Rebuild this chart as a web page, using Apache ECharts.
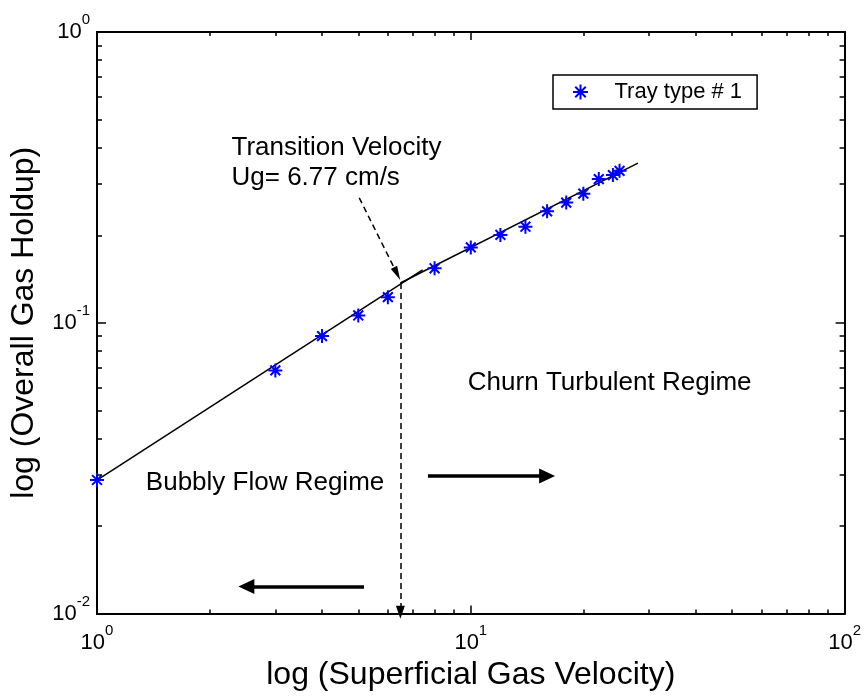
<!DOCTYPE html>
<html>
<head>
<meta charset="utf-8">
<script src="https://cdn.jsdelivr.net/npm/echarts@6/dist/echarts.min.js"></script>
<style>
html, body { margin: 0; padding: 0; background: #fff; }
#main { width: 864px; height: 696px; }
</style>
</head>
<body>
<div id="main"></div>
<script>
// measured points, tray type # 1
var velocity = [1, 3, 4, 5, 6, 8, 10, 12, 14, 16, 18, 20, 22, 24, 25];
var holdup = [0.0288, 0.0686, 0.090, 0.106, 0.1225, 0.154, 0.1817, 0.2006, 0.214, 0.2417, 0.259, 0.278, 0.312, 0.322, 0.333];

// fitted lines for the two regimes
var bubblyFitX = [1, 7.43];
var bubblyFitY = [0.0288, 0.152];
var churnFitX = [6.48, 28];
var churnFitY = [0.137, 0.354];

// annotation arrows (data coords)
var transitionX = [6.48, 6.48];
var transitionY = [0.137, 0.0101];
var pointerX = [5.03, 6.35];
var pointerY = [0.269, 0.1476];
var rightArrowX = [7.68, 16.0];
var rightArrowY = [0.0297, 0.0297];
var leftArrowX = [5.18, 2.51];
var leftArrowY = [0.0124, 0.0124];

// annotation texts, anchored at their left-middle point
var noteText = ['Transition Velocity', 'Ug= 6.77 cm/s', 'Bubbly Flow Regime', 'Churn Turbulent Regime'];
var noteX = [2.29, 2.29, 1.351, 9.82];
var noteY = [0.4003, 0.3145, 0.02808, 0.0622];

// ticks
var xMajor = [1, 10, 100];
var xMinor = [2, 3, 4, 5, 6, 7, 8, 9, 20, 30, 40, 50, 60, 70, 80, 90];
var yMajor = [0.01, 0.1, 1];
var yMinor = [0.02, 0.03, 0.04, 0.05, 0.06, 0.07, 0.08, 0.09, 0.2, 0.3, 0.4, 0.5, 0.6, 0.7, 0.8, 0.9];

var seriesName = 'Tray type # 1';
var FONT = '"Liberation Sans", Arial, sans-serif';
var STAR = 'path://M0,-10L0,10M-10,0L10,0M-7,-7L7,7M-7,7L7,-7';

function pairs(xs, ys) {
    var out = [];
    for (var i = 0; i < xs.length; i++) {
        out.push([xs[i], ys[i]]);
    }
    return out;
}

function arrow(xs, ys, width, dash, size) {
    return [
        { coord: [xs[0], ys[0]], symbol: 'none', lineStyle: { color: '#000', width: width, type: dash } },
        { coord: [xs[1], ys[1]], symbol: 'triangle', symbolSize: size }
    ];
}

function powLabel(v) {
    return '{b|10}{s|' + Math.round(Math.log10(v)) + '}';
}

var richLabel = {
    b: { fontSize: 22, fontFamily: FONT, color: '#000' },
    s: { fontSize: 15, fontFamily: FONT, color: '#000', padding: [0, 0, 24, 0] }
};

function xAxisOf(pos, ticks, len, labels) {
    return {
        type: 'log', logBase: 10, min: 1, max: 100, position: pos, gridIndex: 0,
        axisLine: { show: true, onZero: false, lineStyle: { color: '#000', width: 2 } },
        axisTick: { show: true, inside: true, length: len, customValues: ticks, lineStyle: { color: '#000', width: 1.5 } },
        axisLabel: labels ? {
            show: true, customValues: xMajor, margin: 10, formatter: powLabel, rich: richLabel
        } : { show: false },
        splitLine: { show: false }
    };
}

function yAxisOf(pos, ticks, len, labels) {
    return {
        type: 'log', logBase: 10, min: 0.01, max: 1, position: pos, gridIndex: 0,
        axisLine: { show: true, onZero: false, lineStyle: { color: '#000', width: 2 } },
        axisTick: { show: true, inside: true, length: len, customValues: ticks, lineStyle: { color: '#000', width: 1.5 } },
        axisLabel: labels ? {
            show: true, customValues: yMajor, margin: 7, formatter: powLabel, rich: richLabel
        } : { show: false },
        splitLine: { show: false }
    };
}

var xAxes = [
    xAxisOf('bottom', xMajor, 8, true),
    xAxisOf('bottom', xMinor, 4, false),
    xAxisOf('top', xMajor, 8, false),
    xAxisOf('top', xMinor, 4, false)
];
xAxes[0].name = 'log (Superficial Gas Velocity)';
xAxes[0].nameLocation = 'middle';
xAxes[0].nameGap = 41;
xAxes[0].nameTextStyle = { fontSize: 32, fontFamily: FONT, color: '#000' };

var yAxes = [
    yAxisOf('left', yMajor, 9, true),
    yAxisOf('left', yMinor, 5, false),
    yAxisOf('right', yMajor, 9, false),
    yAxisOf('right', yMinor, 5, false)
];
yAxes[0].name = 'log (Overall Gas Holdup)';
yAxes[0].nameLocation = 'middle';
yAxes[0].nameGap = 57;
yAxes[0].nameTextStyle = { fontSize: 32, fontFamily: FONT, color: '#000' };

var notes = [];
for (var i = 0; i < noteText.length; i++) {
    notes.push({ name: noteText[i], value: [noteX[i], noteY[i]] });
}

var chart = echarts.init(document.getElementById('main'), null, { renderer: 'canvas' });
chart.setOption({
    animation: false,
    backgroundColor: '#fff',
    textStyle: { fontFamily: FONT },
    grid: { left: 95, right: 19, top: 32, bottom: 73, containLabel: false },
    legend: {
        data: [{ name: seriesName, icon: STAR }],
        left: 553, top: 75,
        orient: 'horizontal',
        backgroundColor: '#fff',
        borderColor: '#000', borderWidth: 1.5, borderRadius: 0,
        padding: [6, 15, 6, 19],
        itemWidth: 28, itemHeight: 15,
        selectedMode: false,
        itemStyle: { opacity: 1, color: 'transparent', borderColor: '#0000ff', borderWidth: 2 },
        textStyle: { fontSize: 22, fontFamily: FONT, color: '#000', lineHeight: 22, padding: [0, 0, 0, 15] }
    },
    xAxis: xAxes,
    yAxis: yAxes,
    series: [
        {
            name: 'bubbly fit', type: 'line', xAxisIndex: 0, yAxisIndex: 0,
            data: pairs(bubblyFitX, bubblyFitY), showSymbol: false, symbol: 'none',
            lineStyle: { color: '#000', width: 1.5 }, silent: true, z: 2
        },
        {
            name: 'churn fit', type: 'line', xAxisIndex: 0, yAxisIndex: 0,
            data: pairs(churnFitX, churnFitY), showSymbol: false, symbol: 'none',
            lineStyle: { color: '#000', width: 1.5 }, silent: true, z: 2,
            markLine: {
                silent: true, animation: false,
                label: { show: false },
                emphasis: { disabled: true },
                itemStyle: { color: '#000', opacity: 1 },
                data: [
                    arrow(transitionX, transitionY, 1.5, [6, 4], [9, 13]),
                    arrow(pointerX, pointerY, 1.5, [6, 4], [7, 14]),
                    arrow(rightArrowX, rightArrowY, 3.5, 'solid', [15, 16]),
                    arrow(leftArrowX, leftArrowY, 3.5, 'solid', [15, 16])
                ]
            }
        },
        {
            name: 'notes', type: 'scatter', xAxisIndex: 0, yAxisIndex: 0,
            data: notes, symbolSize: 0, silent: true,
            itemStyle: { opacity: 1 },
            label: {
                show: true, position: 'right', distance: 0, opacity: 1,
                formatter: '{b}', fontSize: 26, fontFamily: FONT, color: '#000'
            },
            z: 3
        },
        {
            name: seriesName, type: 'scatter', xAxisIndex: 0, yAxisIndex: 0,
            data: pairs(velocity, holdup),
            symbol: STAR, symbolSize: 14,
            itemStyle: { opacity: 1, color: 'transparent', borderColor: '#0000ff', borderWidth: 2 },
            z: 5
        }
    ]
});
</script>
</body>
</html>
